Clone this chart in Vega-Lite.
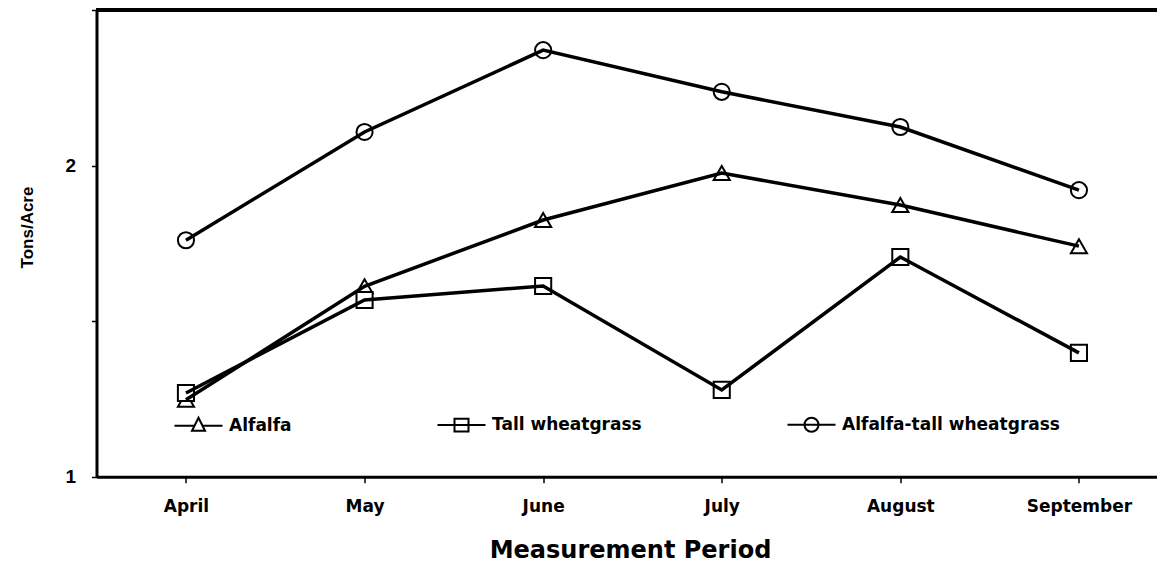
{
  "$schema": "https://vega.github.io/schema/vega-lite/v6.json",
  "autosize": {"type": "none"},
  "padding": {"left": 96.5, "top": 10, "right": 0, "bottom": 86.3},
  "width": 1060.5,
  "height": 466.7,
  "background": "white",
  "config": {"view": {"stroke": null}, "font": "DejaVu Sans"},
  "data": {
    "values": [
      {"month": "April", "series": "Alfalfa", "tons": 1.247},
      {"month": "May", "series": "Alfalfa", "tons": 1.612},
      {"month": "June", "series": "Alfalfa", "tons": 1.825},
      {"month": "July", "series": "Alfalfa", "tons": 1.976},
      {"month": "August", "series": "Alfalfa", "tons": 1.873},
      {"month": "September", "series": "Alfalfa", "tons": 1.741},
      {"month": "April", "series": "Tall wheatgrass", "tons": 1.269},
      {"month": "May", "series": "Tall wheatgrass", "tons": 1.568},
      {"month": "June", "series": "Tall wheatgrass", "tons": 1.613},
      {"month": "July", "series": "Tall wheatgrass", "tons": 1.279},
      {"month": "August", "series": "Tall wheatgrass", "tons": 1.706},
      {"month": "September", "series": "Tall wheatgrass", "tons": 1.398},
      {"month": "April", "series": "Alfalfa-tall wheatgrass", "tons": 1.760},
      {"month": "May", "series": "Alfalfa-tall wheatgrass", "tons": 2.108},
      {"month": "June", "series": "Alfalfa-tall wheatgrass", "tons": 2.371},
      {"month": "July", "series": "Alfalfa-tall wheatgrass", "tons": 2.237},
      {"month": "August", "series": "Alfalfa-tall wheatgrass", "tons": 2.124},
      {"month": "September", "series": "Alfalfa-tall wheatgrass", "tons": 1.921}
    ]
  },
  "encoding": {
    "y": {
      "field": "tons",
      "type": "quantitative",
      "scale": {"domain": [1, 2.5], "nice": false, "zero": false},
      "axis": {
        "values": [1, 1.5, 2, 2.5],
        "tickCount": 4,
        "labelExpr": "datum.value == 1 ? '1' : datum.value == 2 ? '2' : ''",
        "labelOverlap": false,
        "grid": false,
        "domainColor": "black",
        "domainWidth": 3,
        "tickColor": "black",
        "tickWidth": 1.5,
        "tickSize": 5,
        "labelPadding": 16,
        "labelFont": "Liberation Sans",
        "labelFontSize": 19,
        "labelFontWeight": "bold",
        "labelColor": "black",
        "title": "Tons/Acre",
        "titleFont": "Liberation Sans",
        "titleFontSize": 17,
        "titleFontWeight": "bold",
        "titleColor": "black",
        "titleAngle": -90,
        "titleBaseline": "alphabetic",
        "titleAlign": "center",
        "titleX": -64,
        "titleY": 217
      }
    }
  },
  "layer": [
    {
      "mark": {"type": "point", "filled": true, "fill": "white", "stroke": "black", "strokeWidth": 2, "size": 260, "opacity": 1},
      "encoding": {
        "x": {
          "field": "month",
          "type": "ordinal",
          "sort": ["April", "May", "June", "July", "August", "September"],
          "scale": {"type": "point", "padding": 0.469, "align": 0.534},
          "axis": {
            "labelAngle": 0,
            "domainColor": "black",
            "domainWidth": 3,
            "tickColor": "black",
            "tickWidth": 1.5,
            "tickSize": 6,
            "labelPadding": 16,
            "labelFont": "DejaVu Sans",
            "labelFontSize": 17,
            "labelFontWeight": "bold",
            "labelColor": "black",
            "title": "Measurement Period",
            "titleFont": "DejaVu Sans",
            "titleFontSize": 24,
            "titleFontWeight": "bold",
            "titleColor": "black",
            "titleBaseline": "alphabetic",
            "titleX": 533.5,
            "titleY": 80.3,
            "titleAlign": "center"
          }
        },
        "shape": {
          "field": "series",
          "type": "nominal",
          "scale": {
            "domain": ["Alfalfa", "Tall wheatgrass", "Alfalfa-tall wheatgrass"],
            "range": ["triangle-up", "square", "circle"]
          },
          "legend": null
        }
      }
    },
    {
      "mark": {"type": "line", "color": "black", "strokeWidth": 3.5},
      "encoding": {
        "x": {"field": "month", "type": "ordinal", "sort": ["April", "May", "June", "July", "August", "September"]},
        "detail": {"field": "series", "type": "nominal"}
      }
    },
    {
      "mark": {"type": "rule", "color": "black", "strokeWidth": 3},
      "encoding": {
        "y": {
          "datum": 2.5,
          "type": "quantitative",
          "axis": {
            "values": [1, 1.5, 2, 2.5],
            "tickCount": 4,
            "labelExpr": "datum.value == 1 ? '1' : datum.value == 2 ? '2' : ''",
            "labelOverlap": false,
            "grid": false,
            "domainColor": "black",
            "domainWidth": 3,
            "tickColor": "black",
            "tickWidth": 1.5,
            "tickSize": 5,
            "labelPadding": 16,
            "labelFont": "Liberation Sans",
            "labelFontSize": 19,
            "labelFontWeight": "bold",
            "labelColor": "black",
            "title": "Tons/Acre",
            "titleFont": "Liberation Sans",
            "titleFontSize": 17,
            "titleFontWeight": "bold",
            "titleColor": "black",
            "titleAngle": -90,
            "titleBaseline": "alphabetic",
            "titleAlign": "center",
            "titleX": -64,
            "titleY": 217
          }
        }
      }
    },
    {
      "transform": [{"filter": "datum.tons < 0"}],
      "mark": {"type": "point", "filled": false, "color": "black", "strokeWidth": 2, "opacity": 1},
      "encoding": {
        "x": {"field": "month", "type": "ordinal", "sort": ["April", "May", "June", "July", "August", "September"]},
        "shape": {
          "field": "series",
          "type": "nominal",
          "scale": {
            "domain": ["Alfalfa", "Tall wheatgrass", "Alfalfa-tall wheatgrass"],
            "range": [
              "M-3.43,0L-0.57,0M0.57,0L3.43,0M0,-1.14L0.93,0.71L-0.93,0.71Z",
              "M-3.43,0L3.43,0M-1,-0.9L1,-0.9L1,0.9L-1,0.9Z",
              "M-3.43,0L3.43,0M1,0A1,1,0,1,1,-1,0A1,1,0,1,1,1,0Z"
            ]
          },
          "legend": {
            "title": null,
            "orient": "none",
            "direction": "horizontal",
            "legendX": 93.5,
            "legendY": 406,
            "padding": 0,
            "columnPadding": 141,
            "symbolSize": 196,
            "symbolStrokeWidth": 2,
            "symbolStrokeColor": "black",
            "symbolOpacity": 1,
            "labelOffset": 22,
            "labelFont": "DejaVu Sans",
            "labelFontSize": 17,
            "labelFontWeight": "bold",
            "labelColor": "black",
            "labelLimit": 400
          }
        }
      }
    }
  ],
  "resolve": {"scale": {"shape": "independent"}, "legend": {"shape": "independent"}}
}
